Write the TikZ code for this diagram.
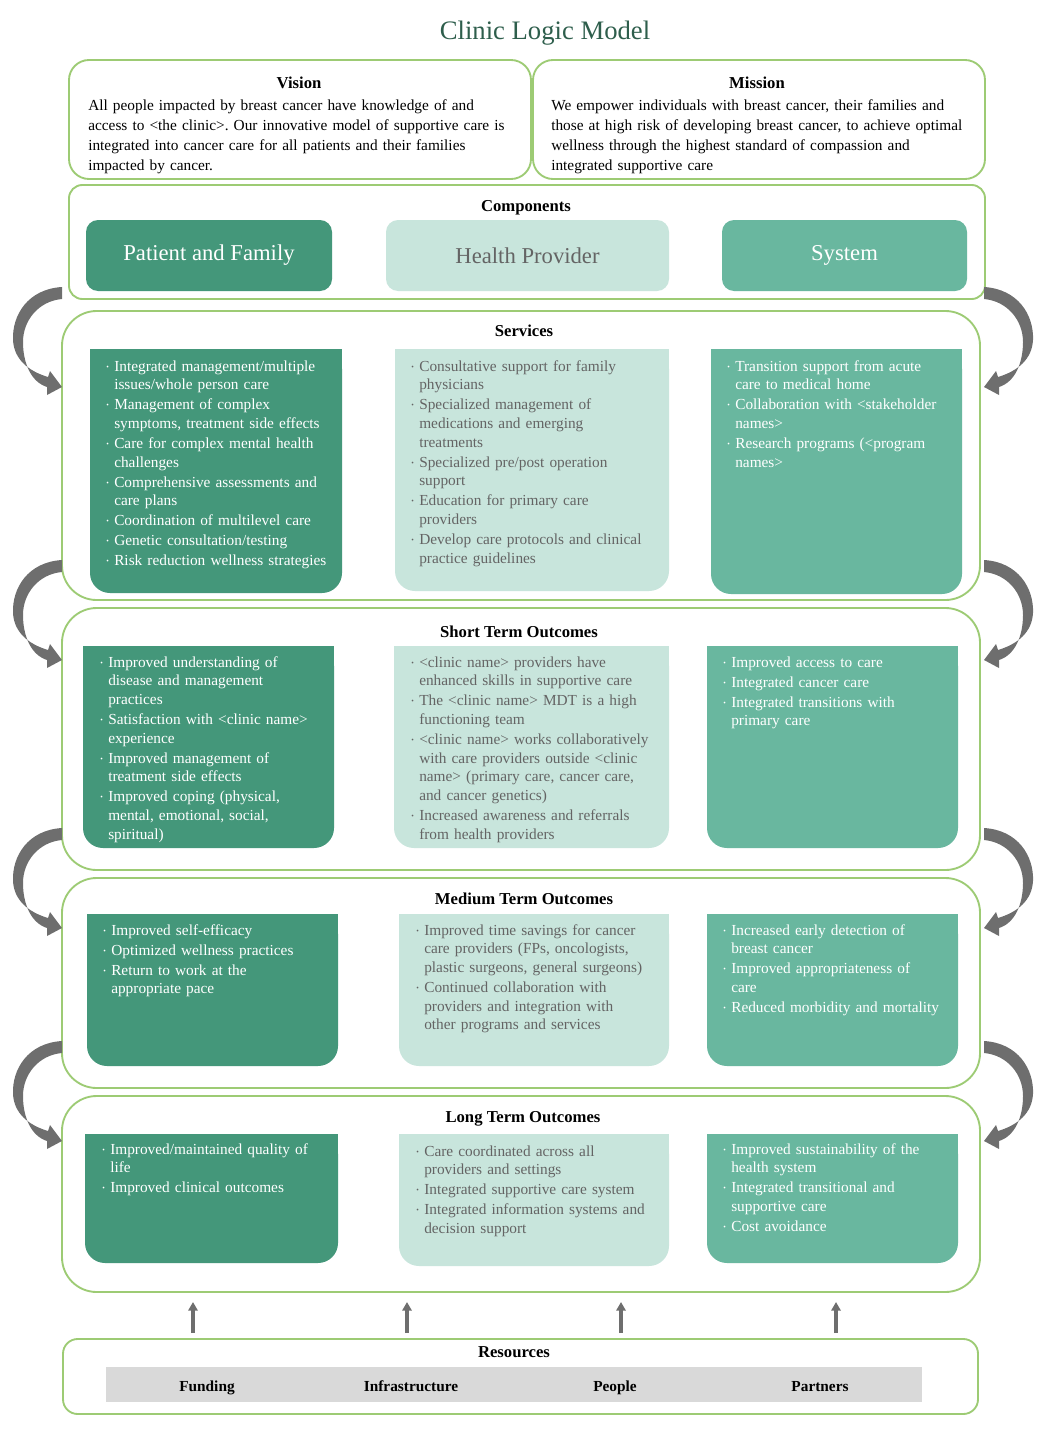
\documentclass[tikz,border=0pt]{standalone}
\usepackage{fontspec}
\setmainfont{Liberation Serif}
\usetikzlibrary{fit,arrows.meta}
\frenchspacing
\definecolor{pfc}{HTML}{44977A}
\definecolor{hpc}{HTML}{C8E5DC}
\definecolor{syc}{HTML}{69B79F}
\definecolor{bgreen}{HTML}{9DCB74}
\definecolor{titlegreen}{HTML}{2E5E4C}
\definecolor{arrowgray}{HTML}{6E6E6E}
\definecolor{resgray}{HTML}{D9D9D9}
\definecolor{hptext}{HTML}{646464}
\newcommand{\bi}[1]{\par\noindent\hangindent=6pt\hangafter=1\makebox[6pt][l]{\raisebox{1.6pt}{\fontsize{5.5}{5.5}\selectfont\textbullet}}#1\par}
\begin{document}
\begin{tikzpicture}[x=0.75pt,y=-0.75pt,
  outer/.style={draw=bgreen, line width=1.4pt, fill=white, inner sep=0pt, rounded corners=#1},
  outer/.default=26pt,
  cbox/.style={fill=#1, inner sep=0pt, rounded corners=15pt},
  compbox/.style={fill=#1, inner sep=0pt, rounded corners=9pt},
  hd/.style={font=\bfseries\fontsize{12.5}{15}\selectfont, inner sep=0pt, anchor=base},
  body/.style={font=\fontsize{11.5}{15}\selectfont, inner sep=0pt, anchor=north west, text width=345pt, align=left},
  lst/.style={font=\fontsize{11.5}{14}\selectfont, inner sep=0pt, anchor=north west, text width=200pt, align=left, execute at begin node={\setlength{\parskip}{1pt}}},
  wl/.style={lst, text=white},
  gl/.style={lst, text=hptext},
  complabel/.style={font=\fontsize{17}{20}\selectfont, inner sep=0pt},
  reslabel/.style={font=\bfseries\fontsize{11.5}{14}\selectfont, inner sep=0pt, anchor=base},
  curvarrow/.style={fill=arrowgray},
  uparrow/.style={draw=arrowgray, line width=2.4pt, -{Triangle[length=6.5pt,width=7pt]}}
]
\useasboundingbox (0,0) rectangle (1048,1438);

% Title
\node[font=\fontsize{20}{24}\selectfont, text=titlegreen, inner sep=0pt, anchor=base] (title) at (545,40) {Clinic Logic Model};

% Vision / Mission
\node[outer=15pt, fit={(69,60) (531,179)}] (vision) {};
\node[outer=15pt, fit={(533,60) (985,179)}] (mission) {};
\node[hd] (visionh) at (299,88.5) {Vision};
\node[hd] (missionh) at (757,88.5) {Mission};
\node[body] (visiont) at (88,99) {All people impacted by breast cancer have knowledge of and\newline access to <the clinic>. Our innovative model of supportive care is\newline integrated into cancer care for all patients and their families\newline impacted by cancer.};
\node[body] (missiont) at (551,99) {We empower individuals with breast cancer, their families and\newline those at high risk of developing breast cancer, to achieve optimal\newline wellness through the highest standard of compassion and\newline integrated supportive care};

% Components
\node[outer=10pt, fit={(69,185) (985,299)}] (comp) {};
\node[hd] (comph) at (526,211.5) {Components};
\node[compbox=pfc, fit={(86,220) (332,291)}] (pf) {};
\node[compbox=hpc, fit={(386,220) (669,291)}] (hp) {};
\node[compbox=syc, fit={(722,220) (967,291)}] (sy) {};
\node[complabel, text=white] (pfl) at (pf.center) {Patient and Family};
\node[complabel, text=hptext] (hpl) at (hp.center) {Health Provider};
\node[complabel, text=white] (syl) at (sy.center) {System};

% Services
\node[outer, fit={(62,311) (980,600)}] (serv) {};
\node[hd] (servh) at (524,336.5) {Services};
\node[cbox=pfc, fit={(90,349) (342,593)}] (s1) {};
\fill[pfc] (s1.north west) rectangle (s1.east);
\node[cbox=hpc, fit={(395,349) (669,591)}] (s2) {};
\fill[hpc] (s2.north west) rectangle (s2.east);
\node[cbox=syc, fit={(711,349) (962,594)}] (s3) {};
\fill[syc] (s3.north west) rectangle (s3.east);
\node[wl] (s1t) at (106,351) {\bi{Integrated management/multiple\newline issues/whole person care}\bi{Management of complex\newline symptoms, treatment side effects}\bi{Care for complex mental health\newline challenges}\bi{Comprehensive assessments and\newline care plans}\bi{Coordination of multilevel care}\bi{Genetic consultation/testing}\bi{Risk reduction wellness strategies}};
\node[gl] (s2t) at (411,351) {\bi{Consultative support for family\newline physicians}\bi{Specialized management of\newline medications and emerging\newline treatments}\bi{Specialized pre/post operation\newline support}\bi{Education for primary care\newline providers}\bi{Develop care protocols and clinical\newline practice guidelines}};
\node[wl] (s3t) at (727,351) {\bi{Transition support from acute\newline care to medical home}\bi{Collaboration with <stakeholder\newline names>}\bi{Research programs (<program\newline names>}};

% Short term
\node[outer, fit={(62,608) (980,870)}] (short) {};
\node[hd] (shorth) at (519,637.5) {Short Term Outcomes};
\node[cbox=pfc, fit={(83,646) (334,848)}] (t1) {};
\fill[pfc] (t1.north west) rectangle (t1.east);
\node[cbox=hpc, fit={(394,646) (669,848)}] (t2) {};
\fill[hpc] (t2.north west) rectangle (t2.east);
\node[cbox=syc, fit={(707,646) (958,848)}] (t3) {};
\fill[syc] (t3.north west) rectangle (t3.east);
\node[wl] (t1t) at (100,647) {\bi{Improved understanding of\newline disease and management\newline practices}\bi{Satisfaction with <clinic name>\newline experience}\bi{Improved management of\newline treatment side effects}\bi{Improved coping (physical,\newline mental, emotional, social,\newline spiritual)}};
\node[gl] (t2t) at (411,647) {\bi{<clinic name> providers have\newline enhanced skills in supportive care}\bi{The <clinic name> MDT is a high\newline functioning team}\bi{<clinic name> works collaboratively\newline with care providers outside <clinic\newline name> (primary care, cancer care,\newline and cancer genetics)}\bi{Increased awareness and referrals\newline from health providers}};
\node[wl] (t3t) at (723,647) {\bi{Improved access to care}\bi{Integrated cancer care}\bi{Integrated transitions with\newline primary care}};

% Medium term
\node[outer, fit={(62,878) (980,1088)}] (med) {};
\node[hd] (medh) at (524,904.5) {Medium Term Outcomes};
\node[cbox=pfc, fit={(87,914) (338,1066)}] (m1) {};
\fill[pfc] (m1.north west) rectangle (m1.east);
\node[cbox=hpc, fit={(399,914) (669,1066)}] (m2) {};
\fill[hpc] (m2.north west) rectangle (m2.east);
\node[cbox=syc, fit={(707,914) (958,1066)}] (m3) {};
\fill[syc] (m3.north west) rectangle (m3.east);
\node[wl] (m1t) at (103,915) {\bi{Improved self-efficacy}\bi{Optimized wellness practices}\bi{Return to work at the\newline appropriate pace}};
\node[gl] (m2t) at (416,915) {\bi{Improved time savings for cancer\newline care providers (FPs, oncologists,\newline plastic surgeons, general surgeons)}\bi{Continued collaboration with\newline providers and integration with\newline other programs and services}};
\node[wl] (m3t) at (723,915) {\bi{Increased early detection of\newline breast cancer}\bi{Improved appropriateness of\newline care}\bi{Reduced morbidity and mortality}};

% Long term
\node[outer, fit={(62,1096) (980,1292)}] (long) {};
\node[hd] (longh) at (523,1122.5) {Long Term Outcomes};
\node[cbox=pfc, fit={(85,1134) (338,1263)}] (l1) {};
\fill[pfc] (l1.north west) rectangle (l1.east);
\node[cbox=hpc, fit={(399,1134) (669,1266)}] (l2) {};
\fill[hpc] (l2.north west) rectangle (l2.east);
\node[cbox=syc, fit={(707,1134) (958,1263)}] (l3) {};
\fill[syc] (l3.north west) rectangle (l3.east);
\node[wl] (l1t) at (102,1134) {\bi{Improved/maintained quality of\newline life}\bi{Improved clinical outcomes}};
\node[gl] (l2t) at (416,1136) {\bi{Care coordinated across all\newline providers and settings}\bi{Integrated supportive care system}\bi{Integrated information systems and\newline decision support}};
\node[wl] (l3t) at (723,1134) {\bi{Improved sustainability of the\newline health system}\bi{Integrated transitional and\newline supportive care}\bi{Cost avoidance}};

% Resources
\node[outer=11pt, fit={(63,1339) (978,1414)}] (res) {};
\node[hd] (resh) at (514,1357.5) {Resources};
\node[fill=resgray, inner sep=0pt, fit={(106,1367) (922,1402)}] (resbar) {};
\node[reslabel] (fund) at (207,1391) {Funding};
\node[reslabel] (infra) at (411,1391) {Infrastructure};
\node[reslabel] (people) at (615,1391) {People};
\node[reslabel] (partners) at (820,1391) {Partners};

% Up arrows
\foreach \ux [count=\i] in {193,407,621,836} {
  \coordinate (us\i) at (\ux,1333);
  \coordinate (ue\i) at (\ux,1302);
  \draw[uparrow] (us\i) -- (ue\i);
}

% Curved arrows (left side and mirrored right side)
\foreach \yy [count=\i] in {287,560,828,1041} {
  \coordinate (la\i) at (62,\yy);
  \coordinate (ra\i) at (984,\yy);
  \fill[curvarrow, shift={(la\i)}] (0,0) .. controls (-34,2) and (-50,28) .. (-49,53) .. controls (-48,72) and (-34,84) .. (-14,90) -- (-12,84) -- (0,100) -- (-15,108) -- (-15,100) .. controls (-31,95) and (-39,76) .. (-39,55) .. controls (-39,33) and (-23,14) .. (0,12) -- cycle;
  \fill[curvarrow, shift={(ra\i)}, xscale=-1] (0,0) .. controls (-34,2) and (-50,28) .. (-49,53) .. controls (-48,72) and (-34,84) .. (-14,90) -- (-12,84) -- (0,100) -- (-15,108) -- (-15,100) .. controls (-31,95) and (-39,76) .. (-39,55) .. controls (-39,33) and (-23,14) .. (0,12) -- cycle;
}
\end{tikzpicture}
\end{document}
